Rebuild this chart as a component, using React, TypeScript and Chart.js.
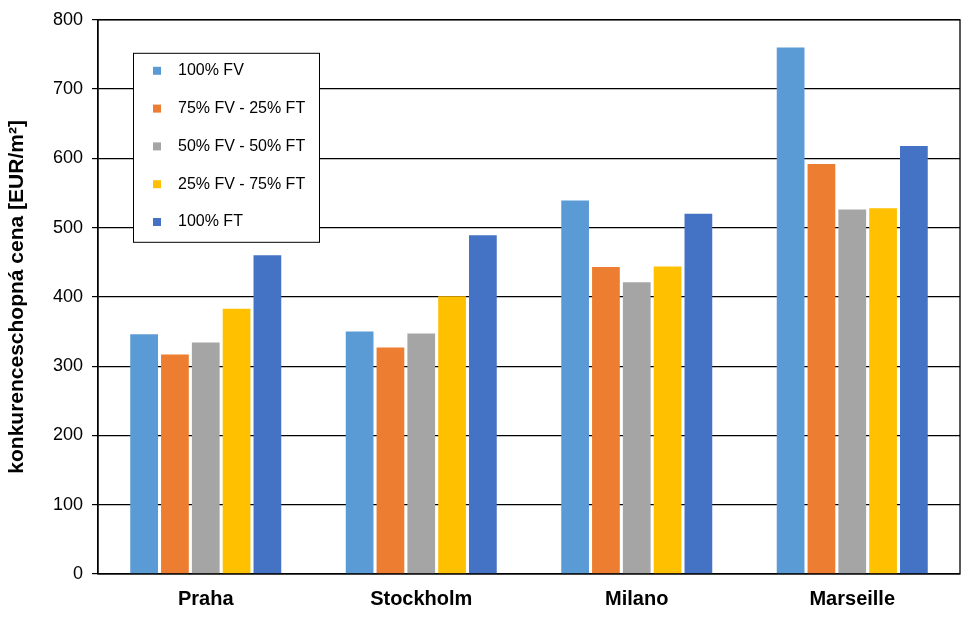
import React, { useEffect, useRef } from "react";
import { Chart, registerables } from "chart.js";

Chart.register(...registerables);

const cities = ["Praha", "Stockholm", "Milano", "Marseille"];
const seriesNames = ["100% FV", "75% FV - 25% FT", "50% FV - 50% FT", "25% FV - 75% FT", "100% FT"];
const fv100 = [346, 350, 539, 760];
const fv75ft25 = [317, 327, 443, 592];
const fv50ft50 = [334, 347, 421, 526];
const fv25ft75 = [383, 401, 444, 528];
const ft100 = [460, 489, 520, 618];
const colors = ["#5B9BD5", "#ED7D31", "#A5A5A5", "#FFC000", "#4472C4"];
const yTicks = [0, 100, 200, 300, 400, 500, 600, 700, 800];
const yTitle = "konkurenceschopná cena [EUR/m²]";

const FONT = "'Liberation Sans', Arial, sans-serif";

const framePlugin = {
  id: "frame",
  afterDatasetsDraw(chart: any) {
    const { ctx, chartArea } = chart;
    ctx.save();
    ctx.strokeStyle = "#000";
    ctx.lineWidth = 1.3;
    ctx.strokeRect(chartArea.left, chartArea.top, chartArea.right - chartArea.left, chartArea.bottom - chartArea.top);
    ctx.restore();
  },
  afterDraw(chart: any) {
    const { ctx, chartArea } = chart;
    const bx = chartArea.left + 35;
    const by = chartArea.top + 33;
    const bw = 186;
    const bh = 189;
    ctx.save();
    ctx.fillStyle = "#fff";
    ctx.fillRect(bx, by, bw, bh);
    ctx.strokeStyle = "#000";
    ctx.lineWidth = 1;
    ctx.strokeRect(bx + 0.5, by + 0.5, bw, bh);
    ctx.font = `16px ${FONT}`;
    ctx.textBaseline = "middle";
    chart.data.datasets.forEach((ds: any, i: number) => {
      const cy = by + 18 + i * 37.8;
      ctx.fillStyle = ds.backgroundColor;
      ctx.fillRect(bx + 20, cy - 4, 8, 8);
      ctx.fillStyle = "#000";
      ctx.fillText(ds.label, bx + 45, cy);
    });
    ctx.restore();
  },
};

export default function App() {
  const ref = useRef<HTMLCanvasElement>(null);
  useEffect(() => {
    document.body.style.margin = "0";
    const values = [fv100, fv75ft25, fv50ft50, fv25ft75, ft100];
    const chart = new Chart(ref.current!, {
      type: "bar",
      data: {
        labels: cities,
        datasets: seriesNames.map((n, i) => ({
          label: n,
          data: values[i],
          backgroundColor: colors[i],
          barPercentage: 0.9,
          categoryPercentage: 0.715,
        })),
      },
      options: {
        animation: false,
        responsive: false,
        layout: { padding: { top: 19, right: 19, left: 0, bottom: 0 } },
        plugins: { legend: { display: false }, tooltip: { enabled: false } },
        scales: {
          x: {
            grid: { display: false, drawTicks: false },
            border: { display: false },
            ticks: { color: "#000", font: { family: FONT, size: 20, weight: "bold" }, padding: 13 },
            afterFit: (s: any) => { s.height = 56; },
          },
          y: {
            min: 0,
            max: 800,
            afterBuildTicks: (s: any) => { s.ticks = yTicks.map((v) => ({ value: v })); },
            grid: { color: "#000", lineWidth: 1.2, tickLength: 6, drawTicks: true },
            border: { display: true, color: "#000", width: 1.3 },
            ticks: { color: "#000", font: { family: FONT, size: 18 }, padding: 9 },
            title: { display: true, text: yTitle, color: "#000", font: { family: FONT, size: 21, weight: "bold" }, padding: { top: 5, bottom: 6 } },
            afterFit: (s: any) => { s.width = 98; },
          },
        },
      },
      plugins: [framePlugin],
    });
    return () => chart.destroy();
  }, []);
  return (
    <div style={{ width: 979, height: 630 }}>
      <canvas ref={ref} width={979} height={630} />
    </div>
  );
}
